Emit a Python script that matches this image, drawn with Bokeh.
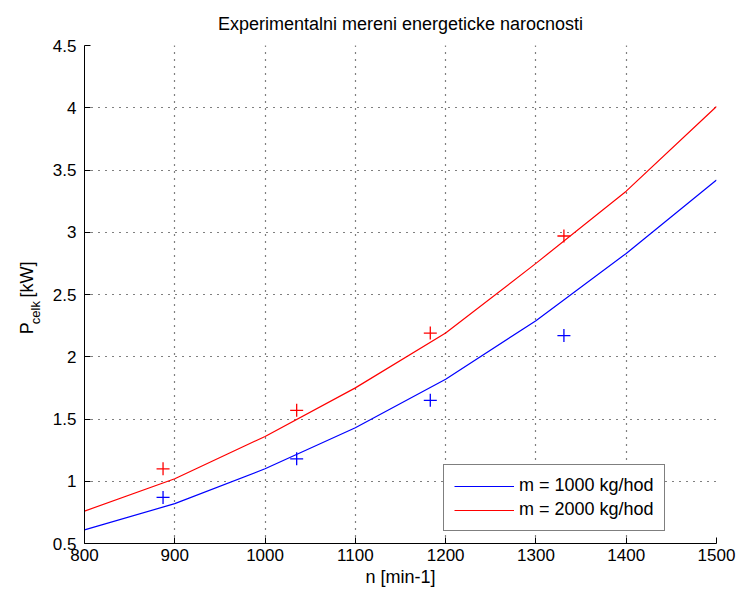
import math
from bokeh.plotting import figure
from bokeh.layouts import row
from bokeh.models import Legend, LegendItem, Range1d, FixedTicker
from bokeh.core.properties import value
from bokeh.embed import file_html
from bokeh.resources import INLINE

# ---- data ----
n_curve = [800, 900, 1000, 1100, 1200, 1300, 1400, 1500]
p_1000 = [0.61, 0.82, 1.10, 1.43, 1.82, 2.29, 2.83, 3.42]
p_2000 = [0.76, 1.02, 1.36, 1.75, 2.19, 2.75, 3.33, 4.01]

n_meas = [887, 1035, 1183, 1331]
meas_1000 = [0.87, 1.18, 1.65, 2.17]
meas_2000 = [1.10, 1.57, 2.19, 2.97]

x_ticks = [800, 900, 1000, 1100, 1200, 1300, 1400, 1500]
y_ticks = [0.5, 1, 1.5, 2, 2.5, 3, 3.5, 4, 4.5]

title_text = "Experimentalni mereni energeticke narocnosti"
xlabel_text = "n [min-1]"
ylabel_parts = ["P", "celk", "[kW]"]
legend_labels = ["m = 1000 kg/hod", "m = 2000 kg/hod"]

FONT = "Liberation Sans"

# ---- layout ----
W, H = 736, 595
LW = 46                      # width of the strip holding the y-axis label
L, R, T, B = 84, 20, 45, 52  # borders of the whole chart
FW, FH = W - L - R, H - T - B
X0, X1, Y0, Y1 = 800, 1500, 0.5, 4.5

p = figure(width=W - LW, height=H, frame_width=FW, frame_height=FH,
           min_border_left=L - LW, min_border_right=R, min_border_top=T, min_border_bottom=B,
           x_range=Range1d(X0, X1), y_range=Range1d(Y0, Y1),
           output_backend="svg", toolbar_location=None)
p.background_fill_color = "white"
p.border_fill_color = "white"
p.outline_line_color = None

p.title.text = title_text
p.title.align = "center"
p.title.text_font = FONT
p.title.text_font_size = "18px"
p.title.text_font_style = "normal"
p.title.text_color = "black"
p.title.standoff = 23

for ax in (p.xaxis[0], p.yaxis[0]):
    ax.major_tick_in = 6
    ax.major_tick_out = 0
    ax.minor_tick_in = 0
    ax.minor_tick_out = 0
    ax.axis_line_color = "black"
    ax.major_tick_line_color = "black"
    ax.major_label_text_font = FONT
    ax.major_label_text_font_size = "17px"
    ax.major_label_text_color = "black"

p.xaxis[0].ticker = FixedTicker(ticks=x_ticks)
p.yaxis[0].ticker = FixedTicker(ticks=y_ticks)
p.xaxis[0].major_label_overrides = {t: str(t) for t in x_ticks}
p.yaxis[0].major_label_overrides = {t: ("%g" % t) for t in y_ticks}
p.xaxis[0].major_label_standoff = 5
p.yaxis[0].major_label_standoff = 8

p.xaxis[0].axis_label = xlabel_text
p.xaxis[0].axis_label_text_font = FONT
p.xaxis[0].axis_label_text_font_size = "18px"
p.xaxis[0].axis_label_text_font_style = "normal"
p.xaxis[0].axis_label_text_color = "black"
p.xaxis[0].axis_label_standoff = 3

for g in (p.xgrid[0], p.ygrid[0]):
    g.grid_line_color = "black"
    g.grid_line_alpha = 1.0
    g.grid_line_dash = "1 6"
    g.grid_line_width = 1.2
p.xgrid[0].ticker = FixedTicker(ticks=x_ticks)
p.ygrid[0].ticker = FixedTicker(ticks=y_ticks)

# ---- curves and points ----
r1 = p.line(n_curve, p_1000, line_color="#0000ff", line_width=1.2)
r2 = p.line(n_curve, p_2000, line_color="#ff0000", line_width=1.2)
p.scatter(n_meas, meas_1000, marker="cross", size=13, line_color="#0000ff", line_width=1.3)
p.scatter(n_meas, meas_2000, marker="cross", size=13, line_color="#ff0000", line_width=1.3)

legend = Legend(items=[LegendItem(label=legend_labels[0], renderers=[r1]),
                       LegendItem(label=legend_labels[1], renderers=[r2])],
                location=(359, 12), orientation="vertical",
                border_line_color="black", border_line_width=1,
                background_fill_color="white", background_fill_alpha=1,
                label_text_font=FONT, label_text_font_size="18px", label_text_color="black",
                glyph_width=60, glyph_height=20, label_height=20, label_standoff=5,
                padding=10, spacing=3, margin=0)
p.add_layout(legend, "center")

# ---- strip with the rotated y-axis label P_celk [kW] (pixel coordinates) ----
q = figure(width=LW, height=H, x_range=Range1d(0, LW), y_range=Range1d(0, H),
           min_border=0, output_backend="svg", toolbar_location=None)
q.axis.visible = False
q.grid.visible = False
q.outline_line_color = None
q.background_fill_color = "white"
q.border_fill_color = "white"

ang = math.pi / 2
q.text(x=[26], y=[H - 345], text=[ylabel_parts[0]], angle=ang, text_align="left",
       text_baseline="alphabetic", text_font=value(FONT), text_font_size=value("18px"),
       text_color="black")
q.text(x=[35], y=[H - 333], text=[ylabel_parts[1]], angle=ang, text_align="left",
       text_baseline="alphabetic", text_font=value(FONT), text_font_size=value("13px"),
       text_color="black")
q.text(x=[26], y=[H - 301], text=[ylabel_parts[2]], angle=ang, text_align="left",
       text_baseline="alphabetic", text_font=value(FONT), text_font_size=value("18px"),
       text_color="black")

layout = row(q, p, spacing=0)
open("out.html", "w").write(file_html(layout, INLINE))
